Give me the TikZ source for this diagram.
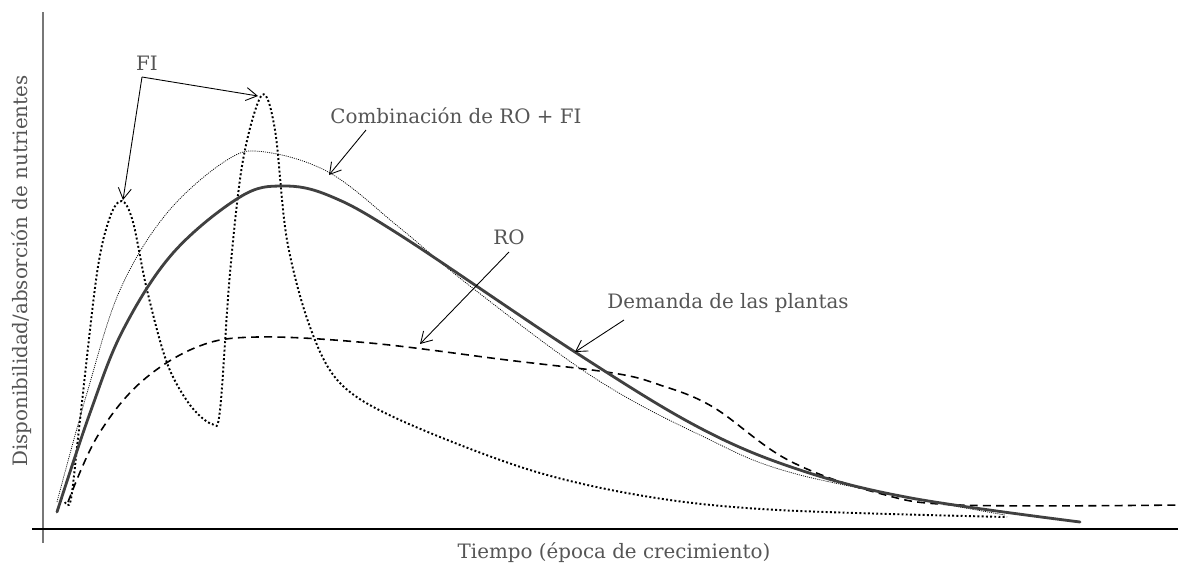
\documentclass[tikz,border=0pt]{standalone}
\usepackage{fontspec}
\setmainfont{DejaVu Serif}
\usetikzlibrary{arrows.meta}
\definecolor{txtgray}{HTML}{555555}
\definecolor{axgray}{HTML}{777777}
\definecolor{rogray}{HTML}{404040}
\tikzstyle{lbl}     = [text=txtgray, font=\fontsize{11.3}{13}\selectfont, inner sep=1pt]
\tikzstyle{ptr}     = [draw, -{Straight Barb[length=2.2mm,width=2.6mm]}, line width=0.5pt]
\tikzstyle{demanda} = [line width=1.6pt, rogray, line cap=round]
\tikzstyle{combi}   = [line width=0.4pt, dash pattern=on 0.6pt off 0.6pt]
\tikzstyle{ro}      = [line width=0.9pt, dash pattern=on 4.5pt off 3pt]
\tikzstyle{fi}      = [line width=1.1pt, dash pattern=on 1.1pt off 1.3pt]
\begin{document}
\begin{tikzpicture}[x=0.02cm, y=-0.02cm]
	\useasboundingbox (0,0) rectangle (1178,566);
	% axes
	\draw[axgray, line width=1pt] (43,12) -- (43,543);
	\draw[line width=0.7pt] (32,529) -- (1178,529);
	\node[lbl, rotate=90] (ylab) at (22,271) {Disponibilidad/absorción de nutrientes};
	\node[lbl] (xlab) at (614,553) {Tiempo (época de crecimiento)};

	% curves
	\draw[fi] plot[smooth, tension=0.55] coordinates {(65,502) (71,499) (80,420) (97,273) (110,217) (122,201)
		(133,222) (147,290) (167,363) (190,405) (212,424) (220,410) (230,273) (243,160) (262,95) (275,130)
		(287,240) (310,327) (340,383) (400,420) (530,470) (650,497) (778,510) (1007,517)};
	\draw[combi] plot[smooth, tension=0.6] coordinates {(57,502) (87,393) (120,290) (167,213) (227,160)
		(265,152) (330,173) (400,228) (470,286) (593,377) (700,435) (800,475) (1005,515)};
	\draw[ro] plot[smooth, tension=0.6] coordinates {(68,502) (97,437) (140,383) (197,347) (257,337) (370,343)
		(507,360) (613,373) (660,385) (713,407) (788,460) (878,493) (960,505) (1178,505)};
	\draw[demanda] plot[smooth, tension=0.6] coordinates {(57,512) (90,413) (123,330) (173,253) (240,197)
		(283,186) (330,196) (400,235) (575,352) (700,428) (800,470) (911,498) (1080,522)};

	% labels and pointers
	\node[lbl] (fi) at (147,63) {FI};
	\node[lbl] (combi) at (456,116) {Combinación de RO + FI};
	\node[lbl] (ro) at (509,237) {RO};
	\node[lbl] (dem) at (728,303) {Demanda de las plantas};

	\coordinate (fistart) at (142,77);
	\coordinate (fipeaka) at (123,200);
	\coordinate (fipeakb) at (258,96);
	\coordinate (combistart) at (366,130);
	\coordinate (combiend) at (329,175);
	\coordinate (rostart) at (509,252);
	\coordinate (roend) at (420,344);
	\coordinate (demstart) at (624,320);
	\coordinate (demend) at (575,352);

	\draw[ptr] (fistart) -- (fipeaka);
	\draw[ptr] (fistart) -- (fipeakb);
	\draw[ptr] (combistart) -- (combiend);
	\draw[ptr] (rostart) -- (roend);
	\draw[ptr] (demstart) -- (demend);
\end{tikzpicture}
\end{document}
